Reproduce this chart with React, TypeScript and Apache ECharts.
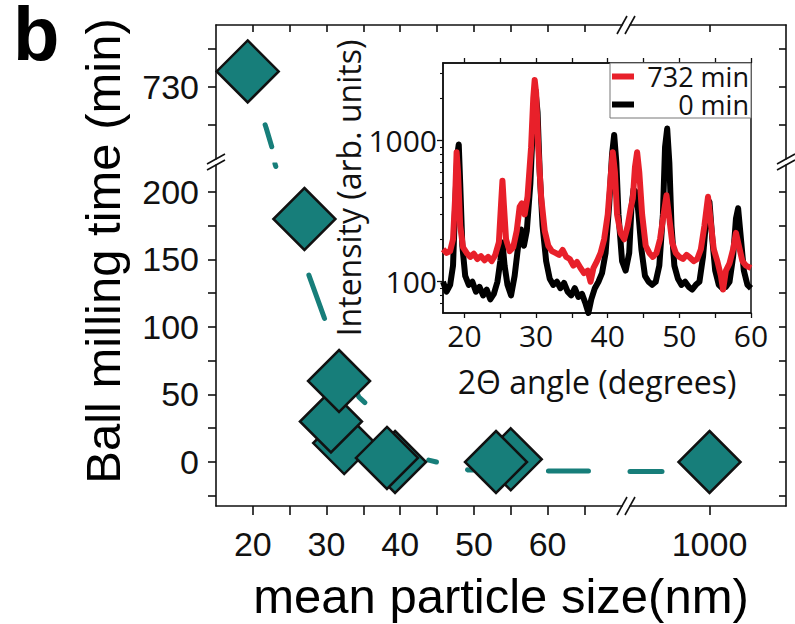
import { useEffect, useRef } from 'react';
import * as echarts from 'echarts';

// Ball-milling time (min) against mean particle size (nm), on broken axes
const upperSize = [19.3];
const upperTime = [732];
const lowerSize = [27.0, 39.3, 32.4, 38.2, 30.6, 31.7, 55.0, 53.0];
const lowerTime = [180, 0, 14, 3, 30, 60, 2, 0];
const farSize = [1000];
const farTime = [0];

// dashed trend guide through the points
const guideUpperSize = [19.3, 21.8, 22.6, 23.6];
const guideUpperTime = [732, 724.6, 722, 718];
const guideLowerSize = [23.0, 27.6, 29.7, 34.4, 43.8, 49.2, 60.1, 70.1];
const guideLowerTime = [221, 138.5, 106.7, 48, 1.5, -5.9, -6.7, -6.7];
const guideFarSize = [947, 1000];
const guideFarTime = [-7, -7];

// tick values and labels
const sizeLabels = [20, 30, 40, 50, 60];
const sizeTicks = [20, 25, 30, 35, 40, 45, 50, 55, 60, 65];
const farLabels = [1000];
const timeLabels = [0, 50, 100, 150, 200];
const timeTicks = [-25, 0, 25, 50, 75, 100, 125, 150, 175, 200];
const upperTimeLabels = [730];
const upperTimeTicks = [725, 730, 735];
const angleLabels = [20, 30, 40, 50, 60];
const angleTicks = [20, 25, 30, 35, 40, 45, 50, 55, 60];
const intensityLabels = [100, 1000];
const intensityMinorTicks = [70, 80, 90, 200, 300, 400, 500, 600, 700, 800, 900, 2000, 3000];

// XRD patterns (2θ in degrees, intensity in arb. units)
const redAngle = [17.0, 17.5, 18.0, 18.4, 18.7, 18.9, 19.1, 19.4, 19.8, 20.3, 20.8, 21.3, 21.8, 22.3, 22.8, 23.3, 23.8, 24.3, 24.8, 25.1, 25.3, 25.5, 25.8, 26.3, 26.8, 27.3, 27.7, 28.0, 28.4, 28.8, 29.3, 29.6, 29.8, 30.0, 30.3, 30.7, 31.2, 31.7, 32.2, 32.7, 33.2, 33.7, 34.2, 34.7, 35.2, 35.7, 36.2, 36.7, 37.2, 37.6, 38.0, 38.5, 39.0, 39.5, 40.0, 40.4, 40.7, 41.0, 41.3, 41.8, 42.3, 42.8, 43.2, 43.5, 43.8, 44.1, 44.4, 44.8, 45.3, 45.8, 46.3, 46.8, 47.3, 47.8, 48.2, 48.6, 49.0, 49.5, 50.0, 50.5, 51.0, 51.5, 52.0, 52.5, 53.0, 53.5, 54.0, 54.4, 54.8, 55.3, 55.8, 56.1, 56.5, 57.0, 57.5, 57.9, 58.3, 58.8, 59.3, 60.0];
const redCounts = [170, 160, 165, 200, 400, 830, 600, 250, 175, 160, 150, 158, 145, 152, 142, 150, 140, 155, 190, 350, 520, 350, 200, 165, 175, 230, 340, 360, 300, 400, 900, 2000, 2700, 2200, 900, 400, 230, 180, 165, 160, 155, 168, 150, 145, 130, 138, 125, 115, 120, 100, 125, 140, 160, 200, 300, 550, 830, 600, 300, 220, 200, 250, 330, 390, 650, 830, 600, 300, 180, 160, 150, 160, 200, 300, 410, 280, 190, 160, 150, 145, 155, 148, 140, 145, 170, 250, 400, 260, 170, 140, 110, 88, 120, 135, 170, 222, 180, 140, 130, 125];
const blackAngle = [17.0, 17.5, 18.0, 18.4, 18.7, 19.0, 19.2, 19.4, 19.7, 20.1, 20.6, 21.1, 21.6, 22.1, 22.6, 23.1, 23.6, 24.1, 24.6, 25.0, 25.3, 25.6, 26.0, 26.5, 27.0, 27.5, 27.9, 28.3, 28.7, 29.2, 29.6, 29.9, 30.2, 30.5, 30.9, 31.4, 31.9, 32.4, 32.9, 33.4, 33.9, 34.4, 34.9, 35.4, 35.9, 36.4, 36.9, 37.3, 37.7, 38.2, 38.7, 39.2, 39.7, 40.2, 40.6, 40.9, 41.2, 41.5, 42.0, 42.5, 43.0, 43.3, 43.6, 44.0, 44.3, 44.7, 45.2, 45.7, 46.2, 46.7, 47.2, 47.7, 48.0, 48.3, 48.6, 48.9, 49.3, 49.8, 50.3, 50.8, 51.3, 51.8, 52.3, 52.8, 53.3, 53.8, 54.2, 54.6, 55.0, 55.5, 56.0, 56.5, 57.0, 57.5, 57.9, 58.2, 58.6, 59.0, 59.5, 60.0];
const blackCounts = [100, 85, 95, 130, 350, 800, 940, 500, 180, 110, 95, 100, 85, 92, 80, 88, 75, 82, 100, 140, 190, 130, 95, 80, 110, 180, 235, 180, 230, 500, 1500, 2300, 1600, 600, 250, 140, 105, 95, 100, 90, 98, 85, 80, 90, 78, 82, 70, 60, 75, 90, 100, 115, 160, 350, 800, 1100, 700, 300, 140, 120, 160, 330, 450, 430, 300, 170, 110, 100, 95, 100, 130, 300, 900, 1220, 700, 250, 130, 105, 95, 100, 92, 88, 95, 100, 150, 300, 370, 200, 120, 95, 90, 92, 100, 150, 280, 332, 200, 120, 95, 90];

const zip = (a: number[], b: number[]) => a.map((v, i) => [v, b[i]]);
const plain = (v: number) => String(v);

const TEAL = '#177e7a';
const RED = '#e8202a';
const INK = '#111';
const MAIN_FONT = '"Liberation Sans", Arial, sans-serif';
const INSET_FONT = '"Open Sans", "Noto Sans", sans-serif';

const frameLine = { color: INK, width: 1.6 };

function mainX(gridIndex: number, position: 'top' | 'bottom', min: number, max: number, ticks: number[], labels: number[] | null) {
  const inside = position === 'top';
  return {
    type: 'value', gridIndex, position, min, max,
    axisLine: { show: true, onZero: false, lineStyle: frameLine },
    axisTick: { show: true, inside, length: inside ? 7 : 9, customValues: ticks, lineStyle: frameLine },
    axisLabel: labels
      ? { show: true, customValues: labels, formatter: plain, fontSize: 34, fontFamily: MAIN_FONT, color: '#111', margin: 21 }
      : { show: false },
    splitLine: { show: false },
  };
}

function mainY(gridIndex: number, position: 'left' | 'right', min: number, max: number, ticks: number[], labels: number[] | null) {
  const inside = position === 'right';
  return {
    type: 'value', gridIndex, position, min, max,
    axisLine: { show: true, onZero: false, lineStyle: frameLine },
    axisTick: { show: true, inside, length: inside ? 7 : 8, customValues: ticks, lineStyle: frameLine },
    axisLabel: labels
      ? { show: true, customValues: labels, formatter: plain, fontSize: 34, fontFamily: MAIN_FONT, color: '#111', margin: 17 }
      : { show: false },
    splitLine: { show: false },
  };
}

const diamondStyle = { color: TEAL, opacity: 1, borderColor: INK, borderWidth: 2.5 };

function guide(xi: number, data: number[][], dash: number[]) {
  return {
    type: 'line', xAxisIndex: xi, yAxisIndex: xi, data, symbol: 'none', silent: true, z: 1,
    lineStyle: { color: TEAL, width: 5, type: dash, cap: 'round' },
  };
}

function points(xi: number, data: number[][]) {
  return {
    type: 'scatter', xAxisIndex: xi, yAxisIndex: xi, data, symbol: 'diamond', symbolSize: 62,
    itemStyle: diamondStyle, z: 3, silent: true,
  };
}

function breakMark(a: number[], b: number[]) {
  return [
    { type: 'line', z: 20, shape: { x1: a[0], y1: a[1], x2: a[2], y2: a[3] }, style: { stroke: INK, lineWidth: 1.6 } },
    { type: 'line', z: 20, shape: { x1: b[0], y1: b[1], x2: b[2], y2: b[3] }, style: { stroke: INK, lineWidth: 1.6 } },
  ];
}

export default function App() {
  const ref = useRef<HTMLDivElement>(null);

  useEffect(() => {
    if (!ref.current) return;
    const chart = echarts.init(ref.current, null, { renderer: 'svg' });

    const insetAxisLine = { show: true, onZero: false, lineStyle: { color: INK, width: 1.5 } };
    const insetTickLine = { color: INK, width: 1.3 };

    const option: any = {
      animation: false,
      backgroundColor: '#fff',
      grid: [
        { left: 216, top: 25, width: 406, height: 134 },
        { left: 630, top: 25, width: 156, height: 134 },
        { left: 216, top: 165, width: 406, height: 341 },
        { left: 630, top: 165, width: 156, height: 341 },
        {
          left: 443, top: 63, width: 308, height: 250, show: true, z: 5,
          backgroundColor: '#fff', borderColor: INK, borderWidth: 1.5,
        },
      ],
      xAxis: [
        mainX(0, 'top', 15, 70.1, sizeTicks, null),
        mainX(1, 'top', 947, 1051, farLabels, null),
        mainX(2, 'bottom', 15, 70.1, sizeTicks, sizeLabels),
        mainX(3, 'bottom', 947, 1051, farLabels, farLabels),
        {
          type: 'value', gridIndex: 4, position: 'bottom', min: 17, max: 60, z: 6,
          name: '2\u0398 angle (degrees)', nameLocation: 'middle', nameGap: 52,
          nameTextStyle: { fontSize: 32, fontFamily: INSET_FONT, color: '#111' },
          axisLine: insetAxisLine,
          axisTick: { show: true, length: 5, customValues: angleTicks, lineStyle: insetTickLine },
          axisLabel: { customValues: angleLabels, formatter: plain, fontSize: 30, fontFamily: INSET_FONT, color: '#111', margin: 7 },
          splitLine: { show: false },
        },
        {
          type: 'value', gridIndex: 4, position: 'top', min: 17, max: 60, z: 6,
          axisLine: insetAxisLine,
          axisTick: { show: true, length: 5, customValues: angleTicks, lineStyle: insetTickLine },
          axisLabel: { show: false },
          splitLine: { show: false },
        },
      ],
      yAxis: [
        mainY(0, 'left', 720.5, 738.1, upperTimeTicks, upperTimeLabels),
        mainY(1, 'right', 720.5, 738.1, upperTimeTicks, null),
        mainY(2, 'left', -32.6, 220, timeTicks, timeLabels),
        mainY(3, 'right', -32.6, 220, timeTicks, null),
        {
          type: 'log', logBase: 10, gridIndex: 4, position: 'left', min: 60, max: 3560, z: 6,
          name: 'Intensity (arb. units)', nameLocation: 'middle', nameGap: 74, nameRotate: 90,
          nameTextStyle: { fontSize: 32, fontFamily: INSET_FONT, color: '#111' },
          axisLine: insetAxisLine,
          axisTick: { show: true, length: 6, customValues: intensityLabels, lineStyle: insetTickLine },
          axisLabel: { customValues: intensityLabels, formatter: plain, fontSize: 30, fontFamily: INSET_FONT, color: '#111', margin: 6 },
          splitLine: { show: false },
        },
        {
          type: 'log', logBase: 10, gridIndex: 4, position: 'left', min: 60, max: 3560, z: 6,
          axisLine: { show: false },
          axisTick: { show: true, length: 3, customValues: intensityMinorTicks, lineStyle: { color: INK, width: 1.1 } },
          axisLabel: { show: false },
          splitLine: { show: false },
        },
      ],
      legend: {
        data: ['732 min', '0 min'],
        orient: 'vertical', right: 44, top: 63, z: 9,
        icon: 'rect', itemWidth: 22, itemHeight: 6, itemGap: 1,
        padding: [0, 2, 0, 2],
        borderColor: '#777', borderWidth: 1, backgroundColor: '#fff',
        formatter: (name: string) => `{r|${name}}`,
        textStyle: {
          fontSize: 27, fontFamily: INSET_FONT, color: '#111', lineHeight: 27,
          rich: { r: { width: 110, align: 'right', fontSize: 27, fontFamily: INSET_FONT, color: '#111', lineHeight: 27 } },
        },
      },
      series: [
        guide(0, zip(guideUpperSize, guideUpperTime), [0.1, 56, 23, 200]),
        guide(2, zip(guideLowerSize, guideLowerTime), [3, 113.5, 46, 80, 14, 86, 8, 32, 6, 75, 40, 200]),
        guide(3, zip(guideFarSize, guideFarTime), [32, 200]),
        points(0, zip(upperSize, upperTime)),
        points(2, zip(lowerSize, lowerTime)),
        points(3, zip(farSize, farTime)),
        {
          name: '0 min', type: 'line', xAxisIndex: 4, yAxisIndex: 4, z: 7,
          data: zip(blackAngle, blackCounts), symbol: 'none', color: '#000',
          lineStyle: { color: '#000', width: 6, join: 'round' },
        },
        {
          name: '732 min', type: 'line', xAxisIndex: 4, yAxisIndex: 4, z: 8,
          data: zip(redAngle, redCounts), symbol: 'none', color: RED,
          lineStyle: { color: RED, width: 6, join: 'round' },
        },
      ],
      graphic: [
        {
          type: 'text', x: 13, y: 33, z: 20,
          style: {
            text: 'b', fontSize: 76, fontWeight: 'bold', fontFamily: MAIN_FONT, fill: '#000',
            verticalAlign: 'middle', textVerticalAlign: 'middle',
          },
        },
        {
          type: 'text', x: 103, y: 251, rotation: Math.PI / 2, z: 20,
          style: {
            text: 'Ball milling time (min)', fontSize: 49, fontFamily: MAIN_FONT, fill: '#000',
            align: 'center', verticalAlign: 'middle', textAlign: 'center', textVerticalAlign: 'middle',
          },
        },
        {
          type: 'text', x: 501, y: 596, z: 20,
          style: {
            text: 'mean particle size(nm)', fontSize: 49, fontFamily: MAIN_FONT, fill: '#000',
            align: 'center', verticalAlign: 'middle', textAlign: 'center', textVerticalAlign: 'middle',
          },
        },
        ...breakMark([207, 164, 225, 154], [207, 170, 225, 160]),
        ...breakMark([777, 164, 795, 154], [777, 170, 795, 160]),
        ...breakMark([617, 34, 627, 16], [625, 34, 635, 16]),
        ...breakMark([617, 515, 627, 497], [625, 515, 635, 497]),
      ],
    };

    chart.setOption(option);
    return () => chart.dispose();
  }, []);

  return <div ref={ref} style={{ position: 'fixed', left: 0, top: 0, width: 795, height: 624, background: '#fff' }} />;
}
